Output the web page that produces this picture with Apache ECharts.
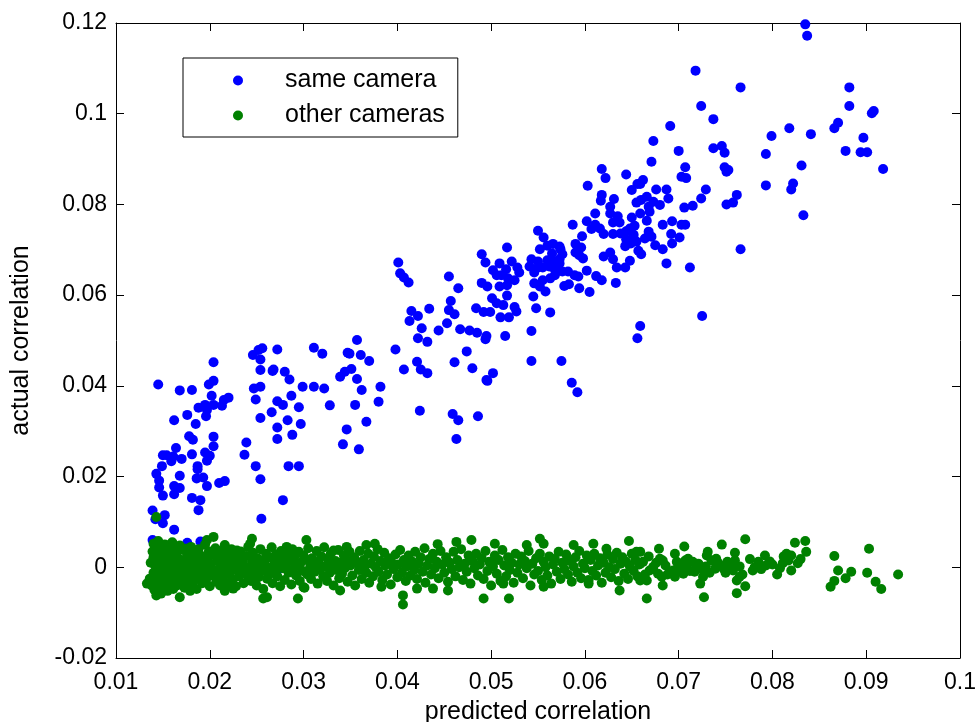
<!DOCTYPE html>
<html>
<head>
<meta charset="utf-8">
<script src="https://cdn.jsdelivr.net/npm/echarts@6/dist/echarts.min.js"></script>
<style>
  html, body { margin: 0; padding: 0; background: #fff; }
  #main { width: 977px; height: 722px; }
</style>
</head>
<body>
<div id="main"></div>
<script>
// axis limits (tick values)
var xTicks = [0.01, 0.02, 0.03, 0.04, 0.05, 0.06, 0.07, 0.08, 0.09, 0.1];
var yTicks = [-0.02, 0, 0.02, 0.04, 0.06, 0.08, 0.1, 0.12];

var seriesNames = ['same camera', 'other cameras'];

// [predicted, actual] for pairs from the same camera
var sameCamera = [
    [0.0145,0.0403],[0.0204,0.0452],[0.0168,0.0390],[0.0181,0.0391],[0.0199,0.0403],[0.0204,0.0411],
    [0.0202,0.0378],[0.0220,0.0374],[0.0215,0.0369],[0.0188,0.0352],[0.0195,0.0358],[0.0197,0.0347],
    [0.0204,0.0358],[0.0213,0.0356],[0.0196,0.0333],[0.0162,0.0324],[0.0176,0.0336],[0.0185,0.0316],
    [0.0178,0.0289],[0.0182,0.0281],[0.0204,0.0288],[0.0204,0.0267],[0.0164,0.0263],[0.0150,0.0247],
    [0.0154,0.0247],[0.0161,0.0244],[0.0170,0.0239],[0.0159,0.0234],[0.0181,0.0249],[0.0195,0.0253],
    [0.0200,0.0246],[0.0197,0.0235],[0.0149,0.0223],[0.0187,0.0223],[0.0187,0.0216],[0.0168,0.0202],
    [0.0143,0.0206],[0.0186,0.0196],[0.0193,0.0198],[0.0210,0.0186],[0.0216,0.0190],[0.0146,0.0191],
    [0.0146,0.0176],[0.0162,0.0179],[0.0168,0.0175],[0.0197,0.0179],[0.0150,0.0158],[0.0162,0.0161],
    [0.0181,0.0153],[0.0190,0.0148],[0.0188,0.0126],[0.0139,0.0125],[0.0142,0.0106],[0.0150,0.0097],
    [0.0152,0.0115],[0.0162,0.0083],[0.0255,0.0107],[0.0278,0.0148],[0.0237,0.0248],[0.0239,0.0275],
    [0.0249,0.0223],[0.0254,0.0194],[0.0284,0.0223],[0.0295,0.0223],[0.0249,0.0370],[0.0254,0.0329],
    [0.0247,0.0394],[0.0254,0.0398],[0.0246,0.0468],[0.0252,0.0479],[0.0256,0.0483],[0.0254,0.0458],
    [0.0254,0.0435],[0.0267,0.0433],[0.0268,0.0436],[0.0272,0.0480],[0.0280,0.0431],[0.0285,0.0414],
    [0.0287,0.0378],[0.0272,0.0366],[0.0278,0.0358],[0.0266,0.0342],[0.0283,0.0324],[0.0295,0.0353],
    [0.0297,0.0316],[0.0272,0.0308],[0.0272,0.0283],[0.0288,0.0292],[0.0299,0.0398],[0.0311,0.0484],
    [0.0320,0.0471],[0.0311,0.0398],[0.0322,0.0394],[0.0328,0.0357],[0.0339,0.0420],[0.0344,0.0431],
    [0.0347,0.0473],[0.0346,0.0304],[0.0342,0.0271],[0.0139,0.0060],[0.0176,0.0054],[0.0190,0.0057],
    [0.0272,-0.0007],
    [0.0401,0.0672],[0.0403,0.0648],[0.0407,0.0639],[0.0412,0.0628],[0.0455,0.0641],[0.0465,0.0615],
    [0.0490,0.0690],[0.0494,0.0672],[0.0490,0.0627],[0.0496,0.0619],[0.0457,0.0587],[0.0455,0.0567],
    [0.0461,0.0558],[0.0434,0.0570],[0.0415,0.0565],[0.0413,0.0543],[0.0422,0.0554],[0.0484,0.0571],
    [0.0492,0.0563],[0.0453,0.0538],[0.0444,0.0522],[0.0467,0.0525],[0.0477,0.0522],[0.0485,0.0517],
    [0.0426,0.0527],[0.0422,0.0505],[0.0432,0.0497],[0.0398,0.0480],[0.0474,0.0476],[0.0421,0.0453],
    [0.0425,0.0436],[0.0432,0.0428],[0.0407,0.0436],[0.0461,0.0452],[0.0480,0.0439],[0.0495,0.0413],
    [0.0424,0.0345],[0.0459,0.0338],[0.0465,0.0324],[0.0486,0.0333],[0.0463,0.0283],[0.0357,0.0501],
    [0.0349,0.0471],[0.0361,0.0468],[0.0370,0.0455],[0.0351,0.0437],[0.0357,0.0415],[0.0362,0.0391],
    [0.0382,0.0398],[0.0380,0.0365],[0.0355,0.0358],[0.0367,0.0321],[0.0359,0.0260],
    [0.0618,0.0878],[0.0622,0.0858],[0.0644,0.0866],[0.0603,0.0841],[0.0656,0.0845],[0.0650,0.0832],
    [0.0618,0.0821],[0.0617,0.0808],[0.0631,0.0812],[0.0627,0.0795],[0.0655,0.0804],[0.0627,0.0780],
    [0.0635,0.0774],[0.0611,0.0780],[0.0650,0.0771],[0.0659,0.0780],[0.0602,0.0763],[0.0630,0.0760],
    [0.0637,0.0760],[0.0587,0.0755],[0.0611,0.0755],[0.0616,0.0747],[0.0607,0.0746],[0.0648,0.0747],
    [0.0653,0.0753],[0.0620,0.0735],[0.0630,0.0735],[0.0638,0.0736],[0.0644,0.0741],[0.0652,0.0733],
    [0.0597,0.0730],[0.0550,0.0742],[0.0556,0.0727],[0.0644,0.0723],[0.0649,0.0714],[0.0643,0.0708],
    [0.0655,0.0718],[0.0590,0.0713],[0.0596,0.0705],[0.0566,0.0713],[0.0573,0.0707],[0.0560,0.0709],
    [0.0517,0.0705],[0.0552,0.0701],[0.0576,0.0690],[0.0573,0.0679],[0.0590,0.0694],[0.0598,0.0681],
    [0.0594,0.0688],[0.0620,0.0685],[0.0627,0.0694],[0.0630,0.0679],[0.0648,0.0676],[0.0643,0.0661],
    [0.0634,0.0661],[0.0543,0.0679],[0.0550,0.0674],[0.0560,0.0677],[0.0568,0.0674],[0.0565,0.0692],
    [0.0574,0.0701],[0.0509,0.0670],[0.0522,0.0674],[0.0516,0.0657],[0.0502,0.0655],[0.0506,0.0644],
    [0.0528,0.0661],[0.0530,0.0650],[0.0541,0.0663],[0.0550,0.0661],[0.0546,0.0650],[0.0555,0.0661],
    [0.0562,0.0663],[0.0568,0.0656],[0.0576,0.0652],[0.0573,0.0670],[0.0582,0.0652],[0.0589,0.0644],
    [0.0593,0.0641],[0.0602,0.0654],[0.0612,0.0642],[0.0618,0.0633],[0.0633,0.0627],[0.0511,0.0644],
    [0.0518,0.0637],[0.0525,0.0633],[0.0509,0.0619],[0.0517,0.0622],[0.0546,0.0626],[0.0555,0.0633],
    [0.0563,0.0637],[0.0568,0.0644],[0.0552,0.0619],[0.0558,0.0608],[0.0545,0.0597],[0.0578,0.0620],
    [0.0583,0.0624],[0.0594,0.0615],[0.0605,0.0607],[0.0517,0.0599],[0.0501,0.0593],[0.0506,0.0582],
    [0.0513,0.0578],[0.0525,0.0574],[0.0510,0.0551],[0.0519,0.0551],[0.0527,0.0564],[0.0548,0.0571],
    [0.0563,0.0562],[0.0499,0.0563],[0.0495,0.0510],[0.0494,0.0503],[0.0515,0.0510],[0.0543,0.0521],
    [0.0502,0.0428],[0.0496,0.0411],[0.0543,0.0455],[0.0575,0.0455],[0.0586,0.0407],[0.0592,0.0386],
    [0.0659,0.0532],[0.0656,0.0505],
    [0.0718,0.1095],[0.0766,0.1058],[0.0724,0.1017],[0.0737,0.0988],[0.0691,0.0973],[0.0673,0.0940],
    [0.0700,0.0918],[0.0737,0.0924],[0.0746,0.0929],[0.0749,0.0914],[0.0671,0.0894],[0.0707,0.0882],
    [0.0749,0.0882],[0.0753,0.0876],[0.0751,0.0872],[0.0703,0.0861],[0.0708,0.0858],[0.0662,0.0854],
    [0.0659,0.0845],[0.0676,0.0833],[0.0687,0.0833],[0.0689,0.0813],[0.0729,0.0833],[0.0724,0.0813],
    [0.0762,0.0821],[0.0758,0.0804],[0.0751,0.0800],[0.0660,0.0810],[0.0666,0.0817],[0.0673,0.0806],
    [0.0680,0.0799],[0.0668,0.0795],[0.0669,0.0784],[0.0666,0.0764],[0.0706,0.0793],[0.0715,0.0797],
    [0.0683,0.0755],[0.0693,0.0763],[0.0703,0.0755],[0.0707,0.0755],[0.0668,0.0740],[0.0671,0.0729],
    [0.0664,0.0725],[0.0692,0.0735],[0.0701,0.0727],[0.0675,0.0710],[0.0683,0.0701],[0.0693,0.0714],
    [0.0657,0.0698],[0.0660,0.0690],[0.0687,0.0670],[0.0712,0.0661],[0.0766,0.0701],[0.0725,0.0554],
    [0.0835,0.1197],[0.0837,0.1172],[0.0882,0.1058],[0.0882,0.1017],[0.0906,0.1001],[0.0908,0.1006],
    [0.0818,0.0968],[0.0799,0.0951],[0.0841,0.0955],[0.0866,0.0968],[0.0870,0.0980],[0.0897,0.0947],
    [0.0793,0.0911],[0.0878,0.0918],[0.0894,0.0915],[0.0901,0.0915],[0.0831,0.0886],[0.0918,0.0878],
    [0.0793,0.0842],[0.0822,0.0846],[0.0820,0.0833],[0.0833,0.0776]
];

// [predicted, actual] for pairs from other cameras
var otherCameras = [
    // dense blob on the left
    [0.0136,-0.0025],[0.0137,0.0010],[0.0138,-0.0040],[0.0139,0.0035],[0.0140,-0.0012],[0.0140,0.0022],
    [0.0141,-0.0050],[0.0142,0.0003],[0.0142,0.0045],[0.0143,-0.0030],[0.0144,0.0015],[0.0145,-0.0008],
    [0.0145,0.0058],[0.0146,-0.0045],[0.0146,0.0028],[0.0147,-0.0018],[0.0148,0.0008],[0.0148,-0.0058],
    [0.0149,0.0040],[0.0150,-0.0030],[0.0150,0.0018],[0.0151,-0.0005],[0.0152,0.0050],[0.0152,-0.0042],
    [0.0153,0.0010],[0.0154,-0.0020],[0.0155,0.0030],[0.0155,-0.0052],[0.0156,0.0002],[0.0157,0.0042],
    [0.0158,-0.0035],[0.0158,0.0020],[0.0159,-0.0010],[0.0160,0.0055],[0.0161,-0.0048],[0.0161,0.0012],
    [0.0162,-0.0025],[0.0163,0.0035],[0.0164,-0.0002],[0.0165,-0.0040],[0.0165,0.0025],[0.0166,0.0005],
    [0.0167,-0.0015],[0.0168,0.0048],[0.0169,-0.0032],[0.0170,0.0016],
    [0.0171,-0.0008],[0.0172,0.0038],[0.0173,-0.0045],[0.0174,0.0008],[0.0175,-0.0022],[0.0176,0.0028],
    [0.0177,-0.0002],[0.0178,-0.0038],[0.0179,0.0018],[0.0180,0.0045],[0.0181,-0.0015],[0.0182,0.0006],
    [0.0183,-0.0030],[0.0184,0.0030],[0.0185,-0.0005],[0.0186,-0.0048],[0.0187,0.0015],[0.0188,0.0040],
    [0.0189,-0.0020],[0.0190,0.0002],[0.0191,0.0025],[0.0192,-0.0035],[0.0193,0.0010],[0.0194,-0.0010],
    [0.0195,0.0050],[0.0196,-0.0028],[0.0197,0.0020],[0.0198,-0.0003],[0.0199,0.0035],[0.0200,-0.0042],
    [0.0201,0.0008],[0.0202,-0.0018],[0.0203,0.0028],[0.0205,-0.0006],[0.0206,0.0042],[0.0207,-0.0032],
    [0.0208,0.0014],[0.0209,-0.0012],[0.0210,0.0030],[0.0211,-0.0040],[0.0212,0.0004],[0.0213,0.0020],
    [0.0214,-0.0024],[0.0215,0.0038],[0.0217,-0.0008],[0.0218,0.0012],[0.0219,-0.0036],[0.0220,0.0026],
    [0.0221,-0.0015],[0.0222,0.0005],[0.0223,0.0040],[0.0224,-0.0028],[0.0226,0.0018],[0.0227,-0.0005],
    [0.0228,-0.0042],[0.0229,0.0028],[0.0230,0.0008],[0.0231,-0.0020],[0.0233,0.0035],[0.0234,-0.0010],
    [0.0235,0.0015],[0.0236,-0.0035],[0.0237,0.0002],[0.0239,0.0025],[0.0240,-0.0018],[0.0241,0.0045],
    [0.0242,-0.0004],[0.0244,-0.0030],[0.0245,0.0012],[0.0246,0.0032],[0.0247,-0.0012],[0.0249,0.0003],
    [0.0250,-0.0040],[0.0251,0.0020],[0.0252,-0.0022],[0.0254,0.0040],[0.0255,0.0006],[0.0256,-0.0008],
    [0.0257,-0.0048],[0.0259,0.0016],[0.0260,0.0030],[0.0261,-0.0025],[0.0262,0.0000],[0.0264,-0.0014],
    [0.0265,0.0022],[0.0266,0.0044],[0.0267,-0.0035],[0.0269,0.0008],[0.0270,-0.0006],[0.0271,0.0028],
    [0.0272,-0.0020],[0.0274,0.0012],[0.0275,-0.0042],[0.0276,0.0036],[0.0278,-0.0002],[0.0279,0.0018],
    [0.0280,-0.0028],[0.0281,0.0006],[0.0283,0.0030],[0.0284,-0.0012],[0.0285,0.0014],[0.0287,-0.0038],
    [0.0288,0.0040],[0.0289,-0.0004],[0.0290,0.0022],[0.0292,-0.0018],[0.0293,0.0004],[0.0295,0.0034],
    [0.0296,-0.0030],[0.0297,0.0010],[0.0299,-0.0008],[0.0300,0.0026],[0.0301,-0.0045],[0.0303,0.0016],
    [0.0304,-0.0016],[0.0305,0.0042],[0.0307,0.0000],[0.0308,-0.0026],[0.0309,0.0020],[0.0311,0.0008],
    [0.0312,-0.0010],[0.0314,0.0036],[0.0315,-0.0036],[0.0316,0.0012],[0.0318,-0.0004],[0.0319,0.0024],
    [0.0321,-0.0020],[0.0322,0.0044],[0.0323,0.0002],[0.0325,-0.0030],[0.0326,0.0018],[0.0328,-0.0012],
    [0.0329,0.0030],[0.0331,0.0006],[0.0332,-0.0040],[0.0334,0.0014],[0.0335,-0.0006],[0.0337,0.0038],
    [0.0338,-0.0024],[0.0340,0.0010],[0.0341,-0.0014],[0.0343,0.0026],[0.0344,-0.0002],[0.0346,0.0016],
    [0.0347,-0.0032],[0.0349,0.0034],
    [0.0350,0.0004],[0.0352,-0.0018],[0.0354,0.0022],[0.0355,-0.0040],[0.0357,0.0010],[0.0359,-0.0006],
    [0.0360,0.0036],[0.0362,-0.0026],[0.0364,0.0016],[0.0365,0.0002],[0.0367,-0.0012],[0.0369,0.0030],
    [0.0370,-0.0034],[0.0372,0.0008],[0.0374,-0.0020],[0.0375,0.0024],[0.0377,0.0000],[0.0379,0.0040],
    [0.0380,-0.0010],[0.0382,0.0014],[0.0384,-0.0028],[0.0386,0.0032],[0.0387,0.0004],[0.0389,-0.0016],
    [0.0391,0.0020],[0.0393,-0.0038],[0.0394,0.0010],[0.0396,-0.0004],[0.0398,0.0028],[0.0400,-0.0022],
    [0.0401,0.0006],[0.0403,0.0038],[0.0405,-0.0012],[0.0407,0.0016],[0.0409,-0.0030],[0.0410,0.0002],
    [0.0412,0.0026],[0.0414,-0.0018],[0.0416,0.0012],[0.0418,-0.0006],[0.0419,0.0034],[0.0421,-0.0026],
    [0.0423,0.0008],[0.0425,0.0022],[0.0427,-0.0010],[0.0429,0.0042],[0.0430,-0.0034],[0.0432,0.0004],
    [0.0434,0.0018],[0.0436,-0.0016],[0.0438,0.0030],[0.0440,-0.0002],[0.0442,0.0012],[0.0444,-0.0024],
    [0.0446,0.0036],[0.0448,0.0006],
    [0.0450,-0.0012],[0.0452,0.0022],[0.0454,-0.0032],[0.0456,0.0010],[0.0458,-0.0004],[0.0460,0.0034],
    [0.0462,-0.0020],[0.0464,0.0016],[0.0466,0.0000],[0.0468,0.0040],[0.0470,-0.0028],[0.0472,0.0008],
    [0.0474,-0.0010],[0.0476,0.0026],[0.0478,-0.0036],[0.0480,0.0014],[0.0482,-0.0002],[0.0484,0.0030],
    [0.0486,-0.0018],[0.0488,0.0006],[0.0490,0.0020],[0.0492,-0.0026],[0.0494,0.0036],[0.0496,-0.0008],
    [0.0498,0.0012],[0.0500,-0.0040],[0.0502,0.0002],[0.0504,0.0026],[0.0506,-0.0014],[0.0508,0.0016],
    [0.0510,-0.0030],[0.0512,0.0038],[0.0514,0.0004],[0.0516,-0.0020],[0.0518,0.0022],[0.0520,-0.0006],
    [0.0522,0.0010],[0.0524,-0.0034],[0.0526,0.0030],[0.0528,-0.0012],[0.0530,0.0006],[0.0532,0.0024],
    [0.0534,-0.0024],[0.0536,0.0014],[0.0538,-0.0002],[0.0540,0.0036],[0.0542,-0.0040],[0.0544,0.0008],
    [0.0546,-0.0016],[0.0548,0.0020],[0.0550,-0.0008],[0.0552,0.0030],[0.0554,-0.0028],[0.0556,0.0012],
    [0.0558,0.0000],
    [0.0560,-0.0018],[0.0562,0.0024],[0.0564,-0.0036],[0.0566,0.0006],[0.0568,0.0018],[0.0570,-0.0010],
    [0.0572,0.0034],[0.0574,-0.0026],[0.0576,0.0010],[0.0578,-0.0004],[0.0580,0.0028],[0.0582,-0.0016],
    [0.0584,0.0014],[0.0586,-0.0032],[0.0588,0.0002],[0.0590,0.0022],[0.0592,-0.0012],[0.0594,0.0036],
    [0.0596,-0.0024],[0.0598,0.0008],[0.0600,-0.0002],[0.0602,0.0026],[0.0604,-0.0028],[0.0606,0.0016],
    [0.0608,-0.0008],[0.0610,0.0030],[0.0612,-0.0018],[0.0614,0.0004],[0.0616,0.0020],[0.0618,-0.0034],
    [0.0620,0.0010],[0.0622,-0.0012],[0.0624,0.0028],[0.0626,0.0000],[0.0628,-0.0022],[0.0630,0.0018],
    [0.0632,-0.0004],[0.0634,0.0032],[0.0636,-0.0030],[0.0638,0.0008],[0.0640,0.0022],[0.0642,-0.0014],
    [0.0644,0.0012],[0.0646,-0.0026],[0.0648,0.0002],[0.0650,0.0030],[0.0652,-0.0008],[0.0654,0.0016],
    [0.0656,-0.0020],[0.0658,0.0006],
    // scattered points at the edges of the band
    [0.0143,0.0111],[0.0140,0.0052],[0.0159,0.0052],[0.0174,0.0041],[0.0204,0.0067],[0.0197,0.0060],
    [0.0245,0.0063],[0.0243,0.0052],[0.0216,0.0049],[0.0229,0.0037],[0.0282,0.0045],[0.0303,0.0060],
    [0.0332,0.0037],[0.0346,0.0045],[0.0133,-0.0036],[0.0143,-0.0062],[0.0168,-0.0066],[0.0179,-0.0052],
    [0.0216,-0.0052],[0.0225,-0.0047],[0.0257,-0.0069],[0.0261,-0.0066],[0.0294,-0.0069],[0.0300,-0.0044],
    [0.0339,-0.0051],
    [0.0406,-0.0062],[0.0406,-0.0082],[0.0492,-0.0069],[0.0519,-0.0069],[0.0552,0.0063],[0.0556,0.0052],
    [0.0647,0.0058],[0.0666,-0.0069],[0.0479,0.0060],[0.0463,0.0056],[0.0443,0.0051],[0.0376,0.0052],
    [0.0367,0.0049],[0.0504,0.0052],[0.0383,-0.0043],[0.0421,-0.0047],[0.0438,-0.0047],[0.0454,-0.0051],
    [0.0513,-0.0036],[0.0556,-0.0043],[0.0604,-0.0036],[0.0637,-0.0051],[0.0609,0.0052],[0.0623,0.0041],
    [0.0588,0.0049],[0.0538,0.0049],[0.0655,0.0034],
    // right part
    [0.0771,0.0062],[0.0835,0.0058],[0.0824,0.0054],[0.0836,0.0034],[0.0815,0.0030],[0.0820,0.0026],
    [0.0746,0.0050],[0.0706,0.0046],[0.0679,0.0041],[0.0696,0.0030],[0.0731,0.0034],[0.0866,0.0025],
    [0.0903,0.0041],[0.0870,-0.0007],[0.0884,-0.0010],[0.0878,-0.0024],[0.0866,-0.0030],[0.0862,-0.0043],
    [0.0901,-0.0012],[0.0910,-0.0032],[0.0916,-0.0048],[0.0934,-0.0016],[0.0805,-0.0016],[0.0820,-0.0007],
    [0.0827,0.0009],[0.0811,0.0009],[0.0817,0.0015],[0.0792,0.0026],[0.0797,0.0013],[0.0793,0.0004],
    [0.0776,0.0018],[0.0781,0.0000],[0.0779,-0.0007],[0.0771,-0.0042],[0.0762,-0.0057],[0.0765,-0.0021],
    [0.0762,-0.0029],[0.0760,0.0015],[0.0765,0.0002],[0.0755,0.0002],[0.0758,-0.0007],[0.0740,0.0019],
    [0.0735,0.0015],[0.0744,0.0004],[0.0739,-0.0003],[0.0748,-0.0003],[0.0723,-0.0036],[0.0727,-0.0066],
    [0.0726,-0.0021],[0.0715,0.0012],[0.0719,0.0001],[0.0724,-0.0003],[0.0712,-0.0008],[0.0717,-0.0010],
    [0.0703,-0.0007],[0.0694,-0.0007],[0.0691,-0.0010],[0.0696,-0.0021],[0.0707,0.0015],[0.0710,0.0019],
    [0.0698,0.0012],[0.0680,0.0019],[0.0683,0.0015],[0.0673,0.0001],[0.0669,-0.0007],[0.0678,-0.0014],
    [0.0682,-0.0021],[0.0683,-0.0040],[0.0666,-0.0029],[0.0659,-0.0029],[0.0659,0.0034],[0.0659,0.0008],
    [0.0662,0.0012],[0.0664,-0.0016],[0.0668,0.0024],[0.0672,-0.0004],[0.0676,0.0010],[0.0686,0.0004],
    [0.0688,-0.0016],[0.0700,0.0004],[0.0705,-0.0014],[0.0709,0.0006],[0.0721,0.0008],[0.0729,0.0002],
    [0.0733,-0.0012],[0.0742,0.0010],[0.0750,-0.0012],[0.0752,0.0012],[0.0768,-0.0016],[0.0785,0.0012],
    [0.0788,-0.0004],[0.0800,0.0006],[0.0808,-0.0002],[0.0812,0.0024],[0.0830,0.0018],[0.0760,0.0032],
    [0.0730,0.0026]
];

var myChart = echarts.init(document.getElementById('main'));

var fontName = 'Liberation Sans';

function tickFormat(v) {
    return parseFloat(v.toFixed(3)).toString();
}

// MATLAB style box: ticks inside on all four sides
function boxAxis(ticks, position, showLabel) {
    return {
        type: 'value',
        position: position,
        min: ticks[0],
        max: ticks[ticks.length - 1],
        interval: ticks[1] - ticks[0],
        axisLine: { show: true, onZero: false, lineStyle: { color: '#000', width: 1 } },
        axisTick: { show: true, inside: true, length: 8, lineStyle: { color: '#000', width: 1 } },
        axisLabel: {
            show: showLabel,
            color: '#000',
            fontSize: 23,
            fontFamily: fontName,
            margin: 13,
            formatter: tickFormat
        },
        splitLine: { show: false }
    };
}

var xBottom = boxAxis(xTicks, 'bottom', true);
xBottom.name = 'predicted correlation';
xBottom.nameLocation = 'middle';
xBottom.nameGap = 42;
xBottom.nameTextStyle = { color: '#000', fontSize: 25, fontFamily: fontName };

var yLeft = boxAxis(yTicks, 'left', true);
yLeft.axisLabel.margin = 9;
yLeft.name = 'actual correlation';
yLeft.nameLocation = 'middle';
yLeft.nameGap = 82;
yLeft.nameTextStyle = { color: '#000', fontSize: 25, fontFamily: fontName };

var option = {
    animation: false,
    backgroundColor: '#fff',
    grid: { left: 116, right: 17, top: 23, bottom: 64, outerBoundsMode: 'none' },
    legend: {
        orient: 'vertical',
        left: 183,
        top: 58,
        selectedMode: false,
        backgroundColor: '#fff',
        borderColor: '#000',
        borderWidth: 1,
        padding: [10, 13, 9, 50],
        itemWidth: 10,
        itemHeight: 10,
        itemGap: 10,
        textStyle: { color: '#000', fontSize: 25, fontFamily: fontName, padding: [0, 0, 0, 37] },
        data: seriesNames
    },
    xAxis: [xBottom, boxAxis(xTicks, 'top', false)],
    yAxis: [yLeft, boxAxis(yTicks, 'right', false)],
    series: [
        {
            name: seriesNames[0],
            type: 'scatter',
            symbol: 'circle',
            symbolSize: 10,
            itemStyle: { color: '#0000ff', opacity: 1 },
            data: sameCamera
        },
        {
            name: seriesNames[1],
            type: 'scatter',
            symbol: 'circle',
            symbolSize: 10,
            itemStyle: { color: '#008000', opacity: 1 },
            data: otherCameras
        }
    ]
};

option && myChart.setOption(option);
</script>
</body>
</html>
